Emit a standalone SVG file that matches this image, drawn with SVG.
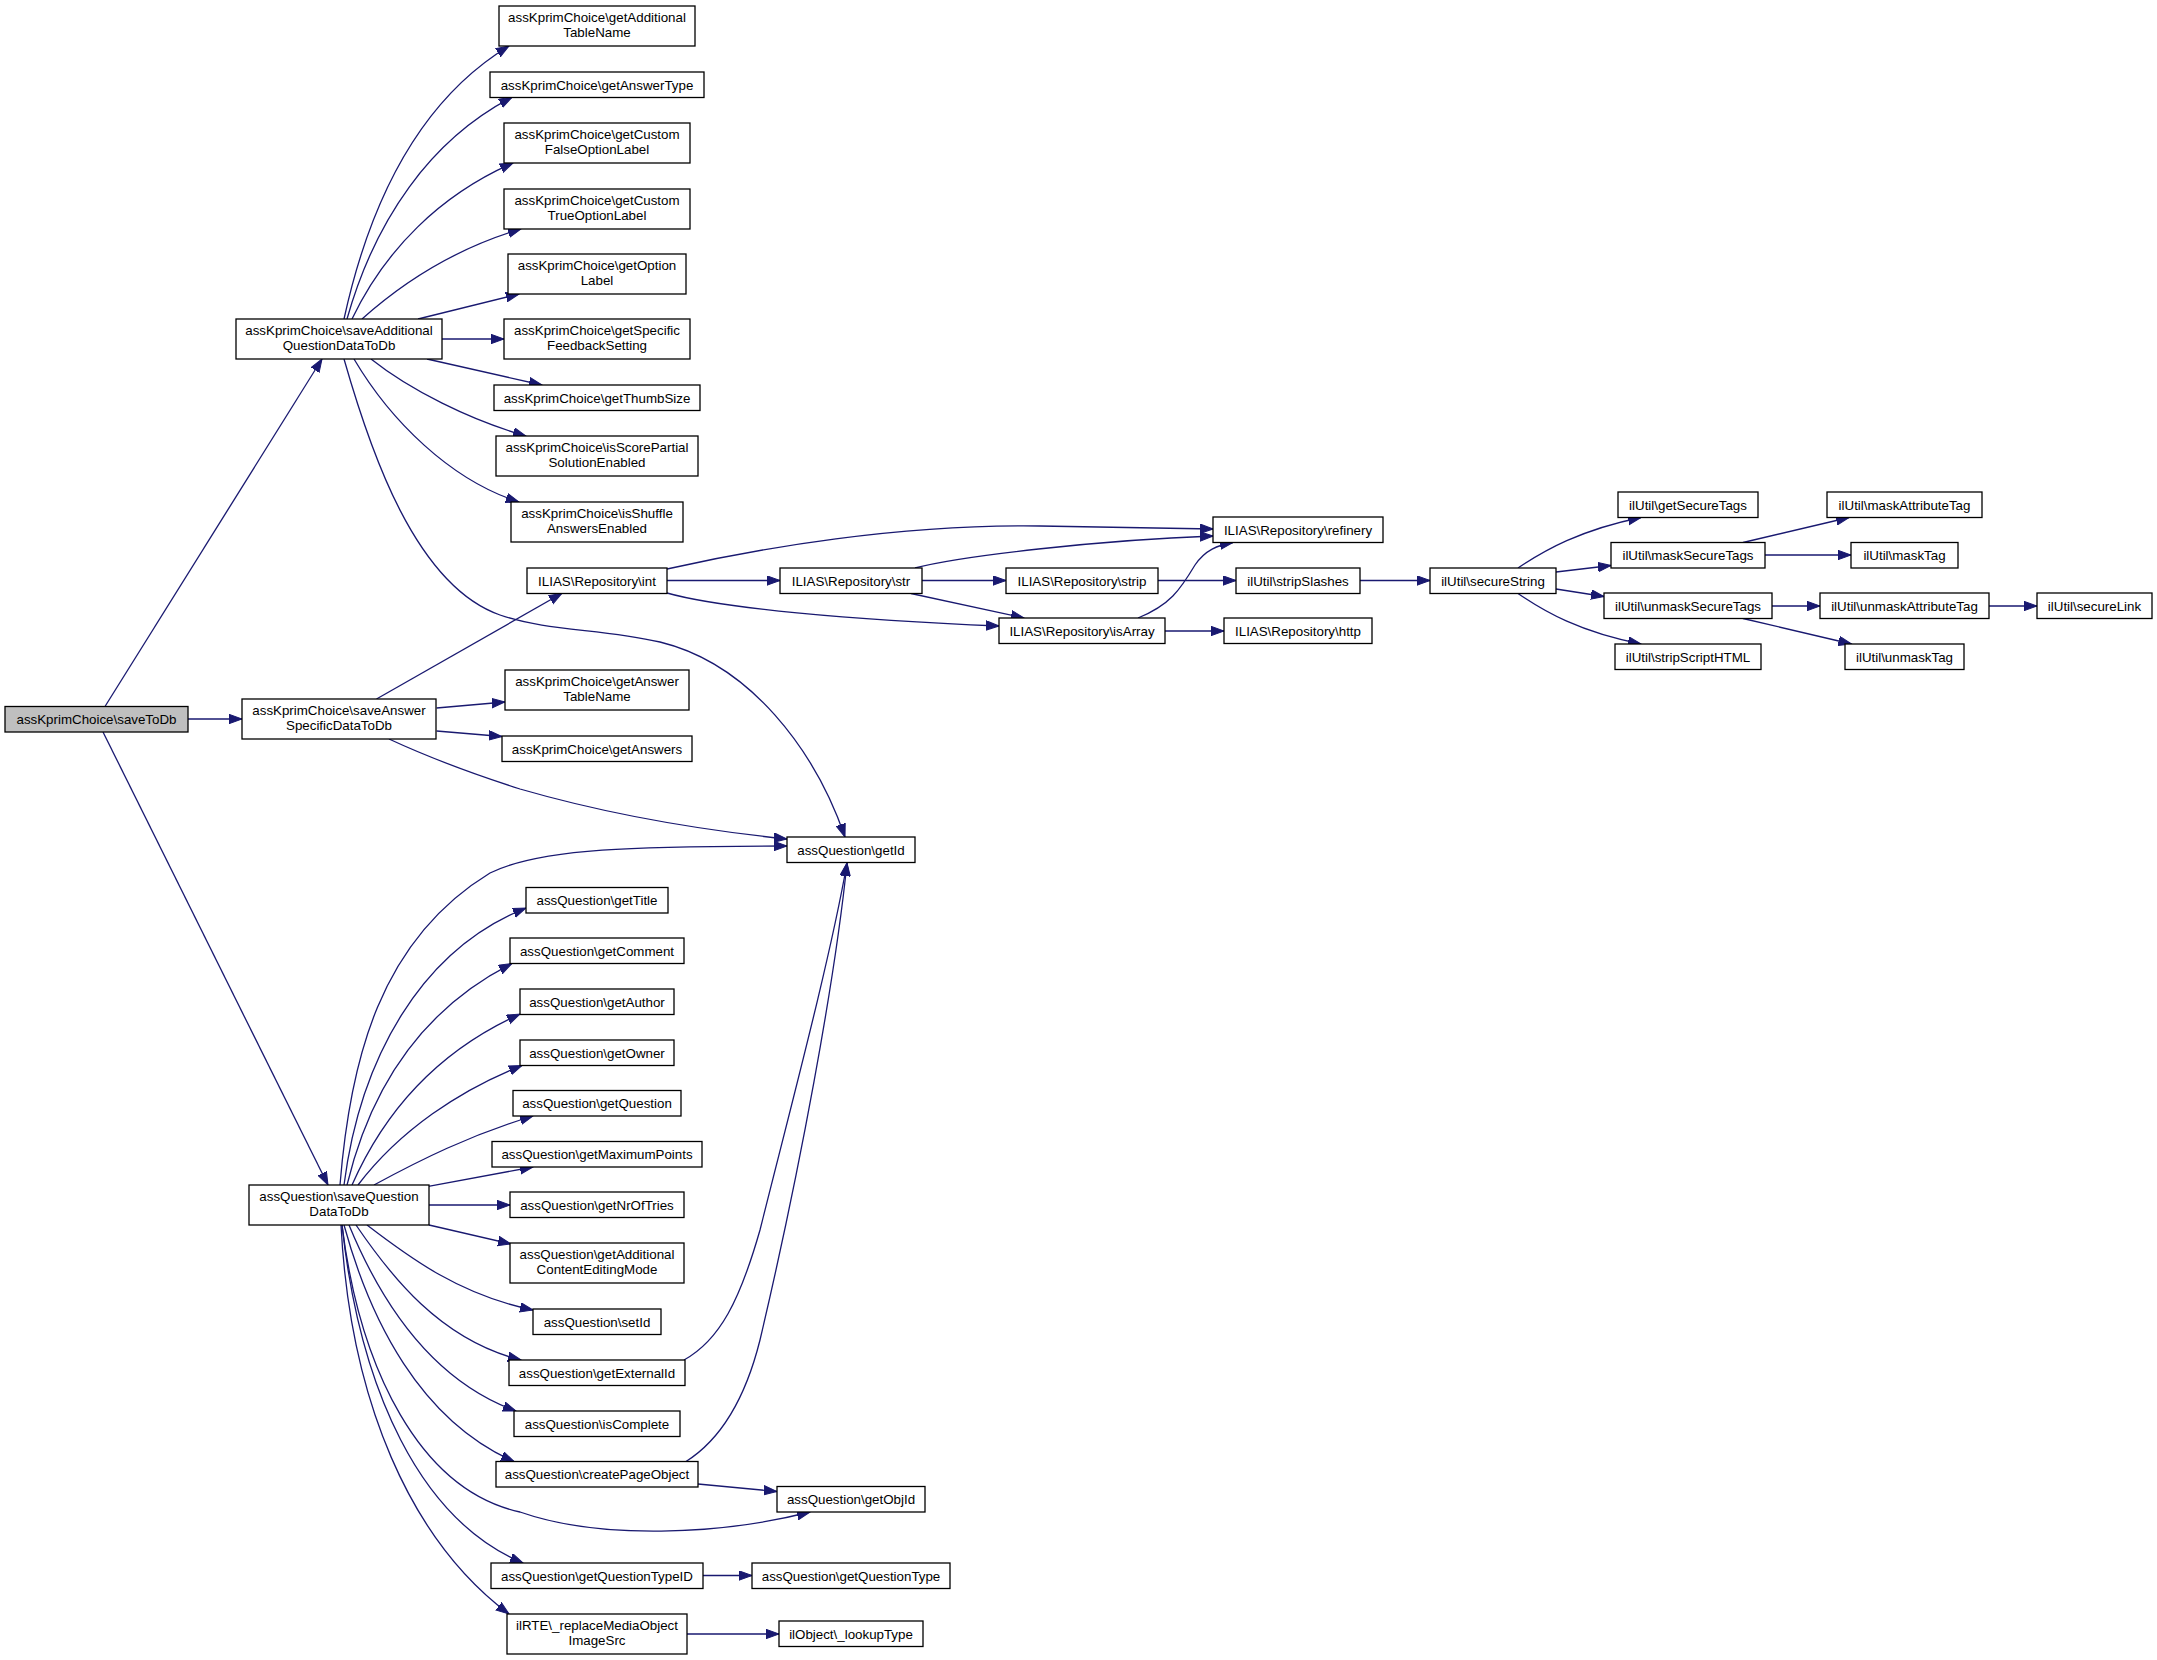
<svg xmlns="http://www.w3.org/2000/svg" width="2157" height="1660" viewBox="0 0 2157 1660">
<style>
.n rect{fill:#fff;stroke:#000;stroke-width:1.3}
.g rect{fill:#bfbfbf}
text{font-family:"Liberation Sans",Arial,Helvetica,sans-serif;font-size:13.33px;text-anchor:middle;fill:#000}
#edges path{fill:none;stroke:#191970;stroke-width:1.3;marker-end:url(#a)}
</style>
<defs>
<marker id="a" markerUnits="userSpaceOnUse" markerWidth="14" markerHeight="11" refX="13" refY="5" orient="auto">
<path d="M0,0.3 L13,5 L0,9.7 z" fill="#191970" stroke="#191970" stroke-width="1"/>
</marker>
</defs>
<rect width="2157" height="1660" fill="#fff"/>
<g id="edges">
<path d="M105,706.5 L322,359"/>
<path d="M188,719 L242,719"/>
<path d="M103,732 L328,1185"/>
<path d="M344,319 C370,200 420,100 509,46"/>
<path d="M347,319 C375,220 430,140 512,97.3"/>
<path d="M352,319 C385,250 440,195 513,163"/>
<path d="M362,319 C400,285 450,250 521,229"/>
<path d="M418,319 L519,294"/>
<path d="M442,339 L504,339"/>
<path d="M427,359 L542,385"/>
<path d="M371,359 C410,390 470,420 526,436"/>
<path d="M354,359 C390,420 450,480 519,502"/>
<path d="M344,359 C370,450 415,585 500,615 C550,632 600,628 660,642 C750,664 815,750 845,837"/>
<path d="M376.5,699 L562,593.3"/>
<path d="M436.6,708 L505,702"/>
<path d="M436.6,731 L502,736.5"/>
<path d="M389,739 C430,758 470,773 520,789 C620,818 720,832 787,839"/>
<path d="M340,1185 C350,1060 380,940 490,873 C540,848 640,846 787,846"/>
<path d="M344,1185 C360,1060 420,950 526,908"/>
<path d="M347,1185 C370,1090 420,1010 512,963.5"/>
<path d="M352,1185 C385,1110 440,1050 520,1014"/>
<path d="M358,1185 C400,1130 460,1090 522,1065.5"/>
<path d="M374,1185 C420,1160 470,1135 533,1116"/>
<path d="M428.4,1186.4 L533,1167"/>
<path d="M429,1205 L510,1205"/>
<path d="M429,1225 L511,1244"/>
<path d="M367,1225 C410,1258 460,1295 533,1310"/>
<path d="M356,1225 C390,1275 440,1340 521,1360"/>
<path d="M349,1225 C380,1300 430,1380 516,1411"/>
<path d="M344,1225 C370,1320 420,1420 514,1461.5"/>
<path d="M342,1225 C360,1370 420,1490 520,1512 C600,1540 720,1535 810,1512"/>
<path d="M342,1225 C360,1390 420,1520 523,1563"/>
<path d="M341,1225 C350,1400 410,1540 509,1614"/>
<path d="M684,1360 C720,1340 740,1300 760,1230 C790,1110 830,960 847,863"/>
<path d="M686,1461.5 C720,1440 745,1400 760,1340 C800,1170 835,980 847,863"/>
<path d="M698,1484 L777,1491.5"/>
<path d="M703,1575.5 L752,1575.5"/>
<path d="M687,1634 L779,1634"/>
<path d="M667,569 C760,548 900,524 1040,526 C1110,527 1170,528 1213,529"/>
<path d="M667,580.5 L780,580.5"/>
<path d="M667,593 C720,608 850,620 999,626"/>
<path d="M915,568 C960,556 1100,540 1213,536"/>
<path d="M922,580.5 L1006,580.5"/>
<path d="M911,593.5 L1024,618"/>
<path d="M1158,580.5 L1236,580.5"/>
<path d="M1165,631 L1224,631"/>
<path d="M1138,618 C1170,605 1180,590 1195,565 C1205,550 1218,545 1233,542.5"/>
<path d="M1360,580.5 L1430,580.5"/>
<path d="M1518,568 C1545,550 1580,530 1641,517.5"/>
<path d="M1556,572 L1611,565.5"/>
<path d="M1556,589 L1604,596.5"/>
<path d="M1518,593.5 C1545,612 1580,632 1641,644"/>
<path d="M1743,542.5 L1849,517.5"/>
<path d="M1765,555 L1851,555"/>
<path d="M1772,606 L1820,606"/>
<path d="M1743,618.5 L1851.5,644"/>
<path d="M1989,606 L2037,606"/>
</g>
<g id="saveToDb" class="n g"><rect x="5" y="706.5" width="183" height="25.5"/><text x="96.5" y="724.2">assKprimChoice\saveToDb</text></g>
<g id="saveAdditional" class="n"><rect x="236" y="319" width="206" height="40"/><text x="339" y="335">assKprimChoice\saveAdditional</text><text x="339" y="349.7">QuestionDataToDb</text></g>
<g id="saveAnswer" class="n"><rect x="242" y="699" width="194" height="40"/><text x="339" y="715">assKprimChoice\saveAnswer</text><text x="339" y="729.7">SpecificDataToDb</text></g>
<g id="saveQuestion" class="n"><rect x="249" y="1185" width="180" height="40"/><text x="339" y="1201">assQuestion\saveQuestion</text><text x="339" y="1215.7">DataToDb</text></g>
<g id="getAdditionalTableName" class="n"><rect x="499" y="6" width="196" height="40"/><text x="597" y="22">assKprimChoice\getAdditional</text><text x="597" y="36.7">TableName</text></g>
<g id="getAnswerType" class="n"><rect x="490" y="72" width="214" height="25.5"/><text x="597" y="89.7">assKprimChoice\getAnswerType</text></g>
<g id="getCustomFalse" class="n"><rect x="504" y="123" width="186" height="40"/><text x="597" y="139">assKprimChoice\getCustom</text><text x="597" y="153.7">FalseOptionLabel</text></g>
<g id="getCustomTrue" class="n"><rect x="504" y="189" width="186" height="40"/><text x="597" y="205">assKprimChoice\getCustom</text><text x="597" y="219.7">TrueOptionLabel</text></g>
<g id="getOptionLabel" class="n"><rect x="508" y="254" width="178" height="40"/><text x="597" y="270">assKprimChoice\getOption</text><text x="597" y="284.7">Label</text></g>
<g id="getSpecific" class="n"><rect x="504" y="319" width="186" height="40"/><text x="597" y="335">assKprimChoice\getSpecific</text><text x="597" y="349.7">FeedbackSetting</text></g>
<g id="getThumbSize" class="n"><rect x="494" y="385" width="206" height="25.5"/><text x="597" y="402.7">assKprimChoice\getThumbSize</text></g>
<g id="isScorePartial" class="n"><rect x="496" y="436" width="202" height="40"/><text x="597" y="452">assKprimChoice\isScorePartial</text><text x="597" y="466.7">SolutionEnabled</text></g>
<g id="isShuffle" class="n"><rect x="511" y="502" width="172" height="40"/><text x="597" y="518">assKprimChoice\isShuffle</text><text x="597" y="532.7">AnswersEnabled</text></g>
<g id="int" class="n"><rect x="527" y="568" width="140" height="25.5"/><text x="597" y="585.7">ILIAS\Repository\int</text></g>
<g id="getAnswerTableName" class="n"><rect x="505" y="670" width="184" height="40"/><text x="597" y="686">assKprimChoice\getAnswer</text><text x="597" y="700.7">TableName</text></g>
<g id="getAnswers" class="n"><rect x="502" y="736" width="190" height="25.5"/><text x="597" y="753.7">assKprimChoice\getAnswers</text></g>
<g id="getTitle" class="n"><rect x="526" y="887.5" width="142" height="25.5"/><text x="597" y="905.2">assQuestion\getTitle</text></g>
<g id="getComment" class="n"><rect x="510" y="938" width="174" height="25.5"/><text x="597" y="955.7">assQuestion\getComment</text></g>
<g id="getAuthor" class="n"><rect x="520" y="989" width="154" height="25.5"/><text x="597" y="1006.7">assQuestion\getAuthor</text></g>
<g id="getOwner" class="n"><rect x="520" y="1040" width="154" height="25.5"/><text x="597" y="1057.7">assQuestion\getOwner</text></g>
<g id="getQuestion" class="n"><rect x="513" y="1090.5" width="168" height="25.5"/><text x="597" y="1108.2">assQuestion\getQuestion</text></g>
<g id="getMaximumPoints" class="n"><rect x="492" y="1141.5" width="210" height="25.5"/><text x="597" y="1159.2">assQuestion\getMaximumPoints</text></g>
<g id="getNrOfTries" class="n"><rect x="510" y="1192" width="174" height="25.5"/><text x="597" y="1209.7">assQuestion\getNrOfTries</text></g>
<g id="getAdditionalContentEditingMode" class="n"><rect x="510" y="1243" width="174" height="40"/><text x="597" y="1259">assQuestion\getAdditional</text><text x="597" y="1273.7">ContentEditingMode</text></g>
<g id="setId" class="n"><rect x="533" y="1309" width="128" height="25.5"/><text x="597" y="1326.7">assQuestion\setId</text></g>
<g id="getExternalId" class="n"><rect x="509" y="1360" width="176" height="25.5"/><text x="597" y="1377.7">assQuestion\getExternalId</text></g>
<g id="isComplete" class="n"><rect x="514" y="1411" width="166" height="25.5"/><text x="597" y="1428.7">assQuestion\isComplete</text></g>
<g id="createPageObject" class="n"><rect x="496" y="1461.5" width="202" height="25.5"/><text x="597" y="1479.2">assQuestion\createPageObject</text></g>
<g id="getQuestionTypeID" class="n"><rect x="491" y="1563" width="212" height="25.5"/><text x="597" y="1580.7">assQuestion\getQuestionTypeID</text></g>
<g id="ilRTE" class="n"><rect x="507" y="1614" width="180" height="40"/><text x="597" y="1630">ilRTE\_replaceMediaObject</text><text x="597" y="1644.7">ImageSrc</text></g>
<g id="str" class="n"><rect x="780" y="568" width="142" height="25.5"/><text x="851" y="585.7">ILIAS\Repository\str</text></g>
<g id="getId" class="n"><rect x="787" y="837" width="128" height="25.5"/><text x="851" y="854.7">assQuestion\getId</text></g>
<g id="getObjId" class="n"><rect x="777" y="1486.5" width="148" height="25.5"/><text x="851" y="1504.2">assQuestion\getObjId</text></g>
<g id="getQuestionType" class="n"><rect x="752" y="1563" width="198" height="25.5"/><text x="851" y="1580.7">assQuestion\getQuestionType</text></g>
<g id="lookupType" class="n"><rect x="779" y="1621" width="144" height="25.5"/><text x="851" y="1638.7">ilObject\_lookupType</text></g>
<g id="strip" class="n"><rect x="1006" y="568" width="152" height="25.5"/><text x="1082" y="585.7">ILIAS\Repository\strip</text></g>
<g id="isArray" class="n"><rect x="999" y="618" width="166" height="25.5"/><text x="1082" y="635.7">ILIAS\Repository\isArray</text></g>
<g id="refinery" class="n"><rect x="1213" y="517" width="170" height="25.5"/><text x="1298" y="534.7">ILIAS\Repository\refinery</text></g>
<g id="stripSlashes" class="n"><rect x="1236" y="568" width="124" height="25.5"/><text x="1298" y="585.7">ilUtil\stripSlashes</text></g>
<g id="http" class="n"><rect x="1224" y="618" width="148" height="25.5"/><text x="1298" y="635.7">ILIAS\Repository\http</text></g>
<g id="secureString" class="n"><rect x="1430" y="568" width="126" height="25.5"/><text x="1493" y="585.7">ilUtil\secureString</text></g>
<g id="getSecureTags" class="n"><rect x="1618" y="492" width="140" height="25.5"/><text x="1688" y="509.7">ilUtil\getSecureTags</text></g>
<g id="maskSecureTags" class="n"><rect x="1611" y="542.5" width="154" height="25.5"/><text x="1688" y="560.2">ilUtil\maskSecureTags</text></g>
<g id="unmaskSecureTags" class="n"><rect x="1604" y="593" width="168" height="25.5"/><text x="1688" y="610.7">ilUtil\unmaskSecureTags</text></g>
<g id="stripScriptHTML" class="n"><rect x="1615" y="644" width="146" height="25.5"/><text x="1688" y="661.7">ilUtil\stripScriptHTML</text></g>
<g id="maskAttributeTag" class="n"><rect x="1827" y="492" width="155" height="25.5"/><text x="1904.5" y="509.7">ilUtil\maskAttributeTag</text></g>
<g id="maskTag" class="n"><rect x="1851" y="542.5" width="107" height="25.5"/><text x="1904.5" y="560.2">ilUtil\maskTag</text></g>
<g id="unmaskAttributeTag" class="n"><rect x="1820" y="593" width="169" height="25.5"/><text x="1904.5" y="610.7">ilUtil\unmaskAttributeTag</text></g>
<g id="unmaskTag" class="n"><rect x="1845" y="644" width="119" height="25.5"/><text x="1904.5" y="661.7">ilUtil\unmaskTag</text></g>
<g id="secureLink" class="n"><rect x="2037" y="593" width="115" height="25.5"/><text x="2094.5" y="610.7">ilUtil\secureLink</text></g>
</svg>
